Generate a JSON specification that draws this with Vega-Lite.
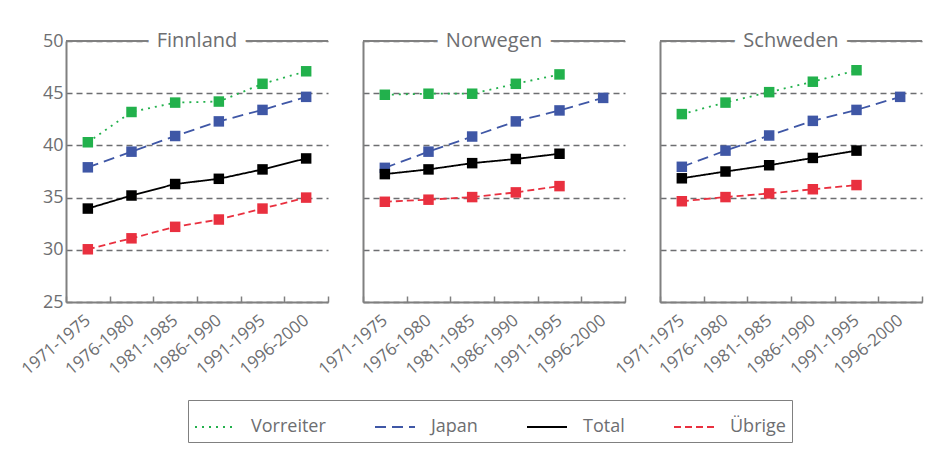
{
  "$schema": "https://vega.github.io/schema/vega-lite/v6.json",
  "padding": {"left": 18, "top": 31, "right": 5, "bottom": 5},
  "spacing": 35,
  "bounds": "flush",
  "data": {"values": [
    {"country":"Finnland","period":"1971-1975","series":"Vorreiter","value":40.3},
    {"country":"Finnland","period":"1976-1980","series":"Vorreiter","value":43.2},
    {"country":"Finnland","period":"1981-1985","series":"Vorreiter","value":44.1},
    {"country":"Finnland","period":"1986-1990","series":"Vorreiter","value":44.2},
    {"country":"Finnland","period":"1991-1995","series":"Vorreiter","value":45.9},
    {"country":"Finnland","period":"1996-2000","series":"Vorreiter","value":47.1},
    {"country":"Finnland","period":"1971-1975","series":"Japan","value":37.9},
    {"country":"Finnland","period":"1976-1980","series":"Japan","value":39.4},
    {"country":"Finnland","period":"1981-1985","series":"Japan","value":40.9},
    {"country":"Finnland","period":"1986-1990","series":"Japan","value":42.3},
    {"country":"Finnland","period":"1991-1995","series":"Japan","value":43.4},
    {"country":"Finnland","period":"1996-2000","series":"Japan","value":44.65},
    {"country":"Finnland","period":"1971-1975","series":"Total","value":33.95},
    {"country":"Finnland","period":"1976-1980","series":"Total","value":35.2},
    {"country":"Finnland","period":"1981-1985","series":"Total","value":36.3},
    {"country":"Finnland","period":"1986-1990","series":"Total","value":36.8},
    {"country":"Finnland","period":"1991-1995","series":"Total","value":37.7},
    {"country":"Finnland","period":"1996-2000","series":"Total","value":38.75},
    {"country":"Finnland","period":"1971-1975","series":"Übrige","value":30.05},
    {"country":"Finnland","period":"1976-1980","series":"Übrige","value":31.1},
    {"country":"Finnland","period":"1981-1985","series":"Übrige","value":32.2},
    {"country":"Finnland","period":"1986-1990","series":"Übrige","value":32.9},
    {"country":"Finnland","period":"1991-1995","series":"Übrige","value":33.95},
    {"country":"Finnland","period":"1996-2000","series":"Übrige","value":35.0},
    {"country":"Norwegen","period":"1971-1975","series":"Vorreiter","value":44.85},
    {"country":"Norwegen","period":"1976-1980","series":"Vorreiter","value":44.95},
    {"country":"Norwegen","period":"1981-1985","series":"Vorreiter","value":44.95},
    {"country":"Norwegen","period":"1986-1990","series":"Vorreiter","value":45.9},
    {"country":"Norwegen","period":"1991-1995","series":"Vorreiter","value":46.8},
    {"country":"Norwegen","period":"1971-1975","series":"Japan","value":37.85},
    {"country":"Norwegen","period":"1976-1980","series":"Japan","value":39.4},
    {"country":"Norwegen","period":"1981-1985","series":"Japan","value":40.85},
    {"country":"Norwegen","period":"1986-1990","series":"Japan","value":42.3},
    {"country":"Norwegen","period":"1991-1995","series":"Japan","value":43.35},
    {"country":"Norwegen","period":"1996-2000","series":"Japan","value":44.55},
    {"country":"Norwegen","period":"1971-1975","series":"Total","value":37.25},
    {"country":"Norwegen","period":"1976-1980","series":"Total","value":37.7},
    {"country":"Norwegen","period":"1981-1985","series":"Total","value":38.3},
    {"country":"Norwegen","period":"1986-1990","series":"Total","value":38.7},
    {"country":"Norwegen","period":"1991-1995","series":"Total","value":39.2},
    {"country":"Norwegen","period":"1971-1975","series":"Übrige","value":34.6},
    {"country":"Norwegen","period":"1976-1980","series":"Übrige","value":34.8},
    {"country":"Norwegen","period":"1981-1985","series":"Übrige","value":35.05},
    {"country":"Norwegen","period":"1986-1990","series":"Übrige","value":35.5},
    {"country":"Norwegen","period":"1991-1995","series":"Übrige","value":36.1},
    {"country":"Schweden","period":"1971-1975","series":"Vorreiter","value":43.0},
    {"country":"Schweden","period":"1976-1980","series":"Vorreiter","value":44.1},
    {"country":"Schweden","period":"1981-1985","series":"Vorreiter","value":45.1},
    {"country":"Schweden","period":"1986-1990","series":"Vorreiter","value":46.1},
    {"country":"Schweden","period":"1991-1995","series":"Vorreiter","value":47.2},
    {"country":"Schweden","period":"1971-1975","series":"Japan","value":37.95},
    {"country":"Schweden","period":"1976-1980","series":"Japan","value":39.5},
    {"country":"Schweden","period":"1981-1985","series":"Japan","value":40.95},
    {"country":"Schweden","period":"1986-1990","series":"Japan","value":42.35},
    {"country":"Schweden","period":"1991-1995","series":"Japan","value":43.4},
    {"country":"Schweden","period":"1996-2000","series":"Japan","value":44.65},
    {"country":"Schweden","period":"1971-1975","series":"Total","value":36.85},
    {"country":"Schweden","period":"1976-1980","series":"Total","value":37.5},
    {"country":"Schweden","period":"1981-1985","series":"Total","value":38.1},
    {"country":"Schweden","period":"1986-1990","series":"Total","value":38.8},
    {"country":"Schweden","period":"1991-1995","series":"Total","value":39.5},
    {"country":"Schweden","period":"1971-1975","series":"Übrige","value":34.65},
    {"country":"Schweden","period":"1976-1980","series":"Übrige","value":35.05},
    {"country":"Schweden","period":"1981-1985","series":"Übrige","value":35.4},
    {"country":"Schweden","period":"1986-1990","series":"Übrige","value":35.8},
    {"country":"Schweden","period":"1991-1995","series":"Übrige","value":36.2}
  ]},
  "resolve": {"scale": {"color": "shared", "strokeDash": "shared"}},
  "hconcat": [
    {
      "width": 262, "height": 261,
      "layer": [
        {"data": {"values": [{"k": 1}]}, "mark": {"type": "rule", "color": "#808080", "strokeWidth": 2},
         "encoding": {"y": {"datum": 50, "type": "quantitative", "scale": {"domain": [25, 50], "padding": 0, "nice": false, "zero": false},
           "axis": {"title": null, "values": [25,30,35,40,45,50], "ticks": false, "labels": true, "grid": true, "gridDash": [6,4], "gridColor": "#6d6e71", "gridWidth": 1.5, "labelFontSize": 18, "labelPadding": 3}}}},
        {"transform": [{"filter": "datum.country === 'Finnland'"}], "mark": {"type": "line", "strokeWidth": 1.8},
         "encoding": {
           "x": {"field": "period", "type": "ordinal", "scale": {"type": "band", "paddingInner": 0, "paddingOuter": 0, "domain": ["1971-1975","1976-1980","1981-1985","1986-1990","1991-1995","1996-2000"]},
             "axis": {"title": null, "tickBand": "extent", "tickSize": -6, "labelAngle": -40, "labelAlign": "right", "labelBaseline": "middle", "labelPadding": 22, "labelFontSize": 17, "grid": false}},
           "y": {"field": "value", "type": "quantitative"},
           "color": {"field": "series", "type": "nominal", "scale": {"domain": ["Vorreiter","Japan","Total","Übrige"], "range": ["#22b14c","#3f57a6","#000000","#e9303f"]}},
           "strokeDash": {"field": "series", "type": "nominal", "scale": {"domain": ["Vorreiter","Japan","Total","Übrige"], "range": [[2,5],[11,6],[1,0],[7,4]]}}
         }},
        {"transform": [{"filter": "datum.country === 'Finnland'"}], "mark": {"type": "square", "size": 110, "opacity": 1, "filled": true},
         "encoding": {
           "x": {"field": "period", "type": "ordinal"},
           "y": {"field": "value", "type": "quantitative"},
           "color": {"field": "series", "type": "nominal"}
         }},
        {"data": {"values": [{"t": "Finnland"}]}, "mark": {"type": "text", "fill": "white", "stroke": "white", "strokeWidth": 20, "strokeJoin": "round", "fontSize": 20, "baseline": "middle"},
         "encoding": {"y": {"datum": 50, "type": "quantitative"}, "text": {"field": "t"}}},
        {"data": {"values": [{"t": "Finnland"}]}, "mark": {"type": "text", "color": "#6d6e71", "fontSize": 20, "baseline": "middle"},
         "encoding": {"y": {"datum": 50, "type": "quantitative"}, "text": {"field": "t"}}}
      ]
    },
    {
      "width": 262, "height": 261,
      "layer": [
        {"data": {"values": [{"k": 1}]}, "mark": {"type": "rule", "color": "#808080", "strokeWidth": 2},
         "encoding": {"y": {"datum": 50, "type": "quantitative", "scale": {"domain": [25, 50], "padding": 0, "nice": false, "zero": false},
           "axis": {"title": null, "values": [25,30,35,40,45,50], "ticks": false, "labels": false, "grid": true, "gridDash": [6,4], "gridColor": "#6d6e71", "gridWidth": 1.5}}}},
        {"transform": [{"filter": "datum.country === 'Norwegen'"}], "mark": {"type": "line", "strokeWidth": 1.8},
         "encoding": {
           "x": {"field": "period", "type": "ordinal", "scale": {"type": "band", "paddingInner": 0, "paddingOuter": 0, "domain": ["1971-1975","1976-1980","1981-1985","1986-1990","1991-1995","1996-2000"]},
             "axis": {"title": null, "tickBand": "extent", "tickSize": -6, "labelAngle": -40, "labelAlign": "right", "labelBaseline": "middle", "labelPadding": 22, "labelFontSize": 17, "grid": false}},
           "y": {"field": "value", "type": "quantitative"},
           "color": {"field": "series", "type": "nominal", "scale": {"domain": ["Vorreiter","Japan","Total","Übrige"], "range": ["#22b14c","#3f57a6","#000000","#e9303f"]}},
           "strokeDash": {"field": "series", "type": "nominal", "scale": {"domain": ["Vorreiter","Japan","Total","Übrige"], "range": [[2,5],[11,6],[1,0],[7,4]]}}
         }},
        {"transform": [{"filter": "datum.country === 'Norwegen'"}], "mark": {"type": "square", "size": 110, "opacity": 1, "filled": true},
         "encoding": {
           "x": {"field": "period", "type": "ordinal"},
           "y": {"field": "value", "type": "quantitative"},
           "color": {"field": "series", "type": "nominal"}
         }},
        {"data": {"values": [{"t": "Norwegen"}]}, "mark": {"type": "text", "fill": "white", "stroke": "white", "strokeWidth": 20, "strokeJoin": "round", "fontSize": 20, "baseline": "middle"},
         "encoding": {"y": {"datum": 50, "type": "quantitative"}, "text": {"field": "t"}}},
        {"data": {"values": [{"t": "Norwegen"}]}, "mark": {"type": "text", "color": "#6d6e71", "fontSize": 20, "baseline": "middle"},
         "encoding": {"y": {"datum": 50, "type": "quantitative"}, "text": {"field": "t"}}}
      ]
    },
    {
      "width": 262, "height": 261,
      "layer": [
        {"data": {"values": [{"k": 1}]}, "mark": {"type": "rule", "color": "#808080", "strokeWidth": 2},
         "encoding": {"y": {"datum": 50, "type": "quantitative", "scale": {"domain": [25, 50], "padding": 0, "nice": false, "zero": false},
           "axis": {"title": null, "values": [25,30,35,40,45,50], "ticks": false, "labels": false, "grid": true, "gridDash": [6,4], "gridColor": "#6d6e71", "gridWidth": 1.5}}}},
        {"transform": [{"filter": "datum.country === 'Schweden'"}], "mark": {"type": "line", "strokeWidth": 1.8},
         "encoding": {
           "x": {"field": "period", "type": "ordinal", "scale": {"type": "band", "paddingInner": 0, "paddingOuter": 0, "domain": ["1971-1975","1976-1980","1981-1985","1986-1990","1991-1995","1996-2000"]},
             "axis": {"title": null, "tickBand": "extent", "tickSize": -6, "labelAngle": -40, "labelAlign": "right", "labelBaseline": "middle", "labelPadding": 22, "labelFontSize": 17, "grid": false}},
           "y": {"field": "value", "type": "quantitative"},
           "color": {"field": "series", "type": "nominal", "scale": {"domain": ["Vorreiter","Japan","Total","Übrige"], "range": ["#22b14c","#3f57a6","#000000","#e9303f"]}},
           "strokeDash": {"field": "series", "type": "nominal", "scale": {"domain": ["Vorreiter","Japan","Total","Übrige"], "range": [[2,5],[11,6],[1,0],[7,4]]}}
         }},
        {"transform": [{"filter": "datum.country === 'Schweden'"}], "mark": {"type": "square", "size": 110, "opacity": 1, "filled": true},
         "encoding": {
           "x": {"field": "period", "type": "ordinal"},
           "y": {"field": "value", "type": "quantitative"},
           "color": {"field": "series", "type": "nominal"}
         }},
        {"data": {"values": [{"t": "Schweden"}]}, "mark": {"type": "text", "fill": "white", "stroke": "white", "strokeWidth": 20, "strokeJoin": "round", "fontSize": 20, "baseline": "middle"},
         "encoding": {"y": {"datum": 50, "type": "quantitative"}, "text": {"field": "t"}}},
        {"data": {"values": [{"t": "Schweden"}]}, "mark": {"type": "text", "color": "#6d6e71", "fontSize": 20, "baseline": "middle"},
         "encoding": {"y": {"datum": 50, "type": "quantitative"}, "text": {"field": "t"}}}
      ]
    }
  ],
  "config": {
    "font": "Open Sans",
    "view": {"stroke": null},
    "axis": {"labelFont": "Open Sans", "labelColor": "#6d6e71", "domainColor": "#808080", "domainWidth": 2, "tickColor": "#808080", "tickWidth": 1.5},
    "legend": {
      "orient": "none", "legendX": 122, "legendY": 359, "direction": "horizontal", "title": null,
      "strokeColor": "#808080", "padding": 6,
      "symbolType": "stroke", "symbolSize": 1600, "symbolStrokeWidth": 2,
      "labelFont": "Open Sans", "labelFontSize": 18, "labelColor": "#6d6e71", "labelOffset": 15, "columnPadding": 45
    }
  }
}
